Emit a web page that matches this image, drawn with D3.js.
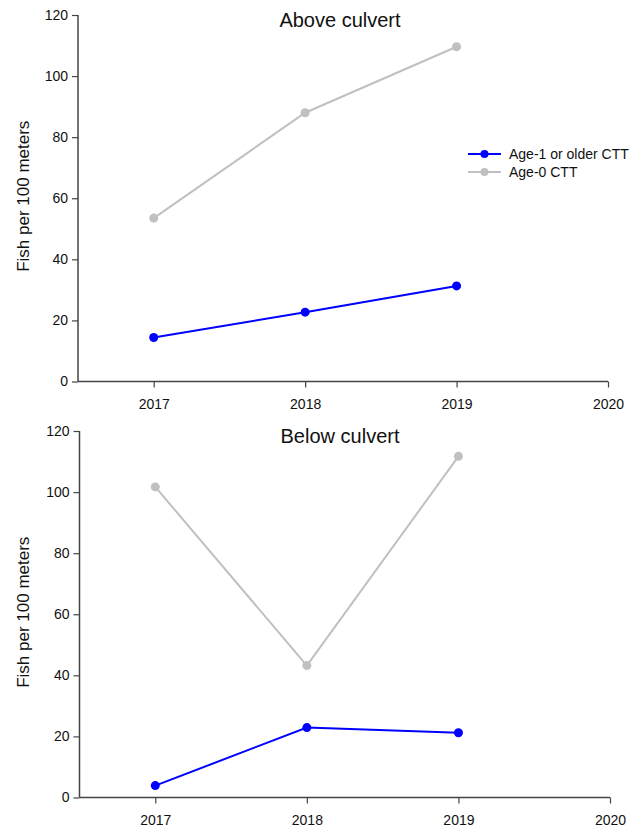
<!DOCTYPE html>
<html><head><meta charset="utf-8">
<script src="https://cdn.jsdelivr.net/npm/d3@7"></script>
<style>body{margin:0;background:#fff;} text{font-family:"Liberation Sans",Arial,sans-serif;fill:#111;}</style>
</head><body>
<svg id="c" width="630" height="829"></svg>
<script>
const years = [2017, 2018, 2019];
const xTicks = [2017, 2018, 2019, 2020];
const yTicks = [0, 20, 40, 60, 80, 100, 120];
const panelTitles = ["Above culvert", "Below culvert"];
const seriesNames = ["Age-1 or older CTT", "Age-0 CTT"];
const seriesColors = ["#0000ff", "#c0c0c0"];
const aboveAge1 = [14.4, 22.7, 31.3];
const aboveAge0 = [53.5, 88.0, 109.6];
const belowAge1 = [3.9, 22.9, 21.2];
const belowAge0 = [101.7, 43.2, 111.7];

const panels = [
  {title: panelTitles[0], series: [aboveAge0, aboveAge1], top: 15, bottom: 381.5, left: 78, right: 608, legend: true},
  {title: panelTitles[1], series: [belowAge0, belowAge1], top: 431, bottom: 797.5, left: 79.5, right: 610, legend: false}
];
const seriesOrder = [1, 0]; // draw grey first, then blue
const svg = d3.select("#c");

panels.forEach(p => {
  const x = d3.scaleLinear().domain([2016.5, 2020]).range([p.left, p.right]);
  const y = d3.scaleLinear().domain([0, 120]).range([p.bottom, p.top]);
  const g = svg.append("g");
  const ya = g.append("g").attr("transform", `translate(${p.left},0)`)
    .call(d3.axisLeft(y).tickValues(yTicks).tickSize(6).tickPadding(4).tickFormat(d3.format("d")));
  const xa = g.append("g").attr("transform", `translate(0,${p.bottom})`)
    .call(d3.axisBottom(x).tickValues(xTicks).tickSize(6).tickPadding(12).tickFormat(d3.format("d")));
  [ya, xa].forEach(a => {
    a.attr("font-size", 14).attr("font-family", null);
    a.select(".domain").attr("stroke", "#444").attr("stroke-width", 1.5);
    a.selectAll(".tick line").attr("stroke", "#444").attr("stroke-width", 1.2);
    a.selectAll(".tick text").style("font-size", "14px").attr("fill", "#111");
  });
  ya.select(".domain").attr("d", `M0,${p.top}V${p.bottom}`);
  xa.select(".domain").attr("d", `M${p.left},0H${p.right}`);

  g.append("text").attr("x", 340).attr("y", p.top + 12).attr("text-anchor", "middle")
    .style("font-size", "20px").text(p.title);
  g.append("text").attr("transform", `translate(29,${(p.top + p.bottom) / 2 - 2}) rotate(-90)`)
    .attr("text-anchor", "middle").style("font-size", "17px").text("Fish per 100 meters");

  const line = d3.line().x((d, i) => x(years[i])).y(d => y(d));
  p.series.forEach((s, k) => {
    const color = seriesColors[seriesOrder[k]];
    g.append("path").datum(s).attr("d", line).attr("fill", "none").attr("stroke", color).attr("stroke-width", 2);
    g.selectAll(null).data(s).enter().append("circle")
      .attr("cx", (d, i) => x(years[i])).attr("cy", d => y(d)).attr("r", 4.5).attr("fill", color);
  });

  if (p.legend) {
    const lg = g.append("g");
    seriesNames.forEach((n, i) => {
      const yy = 154 + i * 18;
      lg.append("line").attr("x1", 468).attr("x2", 501).attr("y1", yy).attr("y2", yy)
        .attr("stroke", seriesColors[i]).attr("stroke-width", 2);
      lg.append("circle").attr("cx", 484.5).attr("cy", yy).attr("r", 4).attr("fill", seriesColors[i]);
      lg.append("text").attr("x", 509).attr("y", yy).attr("dy", "0.35em").style("font-size", "14px").text(n);
    });
  }
});
</script>
</body></html>
